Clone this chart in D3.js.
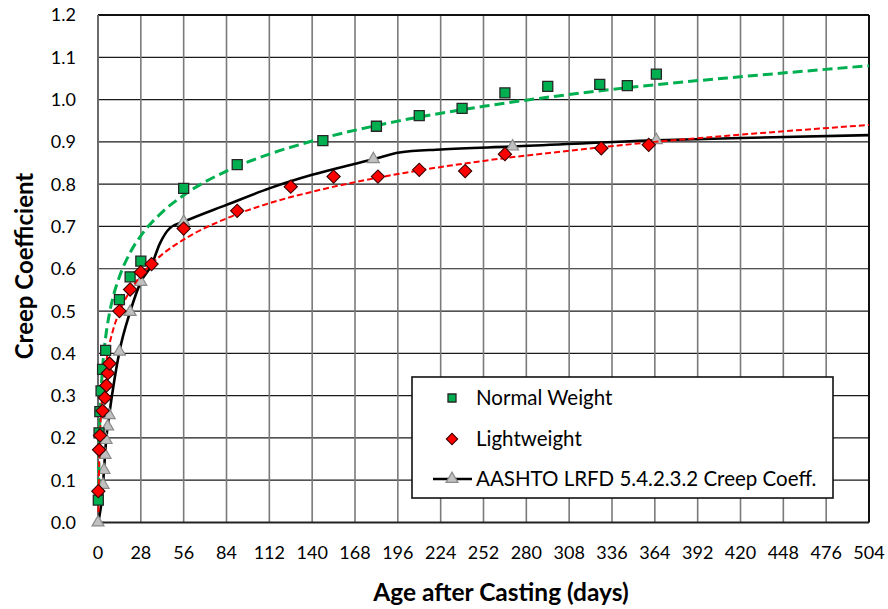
<!DOCTYPE html>
<html><head><meta charset="utf-8">
<script src="https://cdn.jsdelivr.net/npm/d3@7"></script>
<style>
html,body{margin:0;padding:0;background:#fff;}
svg{display:block;}
text{font-family:Lato,"Open Sans",sans-serif;fill:#000;}
</style></head><body>
<svg id="chart" width="888" height="609"></svg>
<script>
// ---- data ----
const xTicks = [0,28,56,84,112,140,168,196,224,252,280,308,336,364,392,420,448,476,504];
const yTicks = [0,0.1,0.2,0.3,0.4,0.5,0.6,0.7,0.8,0.9,1.0,1.1,1.2];

const nwDays   = [0.2,0.7,1.2,2,3,5,14,21,28,56,91,147,182,210,238,266,294,328,346,365];
const nwValues = [0.053,0.212,0.262,0.311,0.362,0.407,0.527,0.581,0.618,0.790,0.846,0.903,0.937,0.962,0.979,1.016,1.031,1.036,1.033,1.060];

const lwDays   = [0.2,0.7,1.3,3,4.5,5.5,6.5,7.5,14,21,28,35,56,91,126,154,183,210,240,266,329,360];
const lwValues = [0.074,0.172,0.206,0.264,0.295,0.324,0.353,0.376,0.500,0.551,0.592,0.611,0.695,0.737,0.794,0.818,0.818,0.834,0.831,0.871,0.885,0.893];

const aashtoMarkerDays   = [0,3.3,3.9,4.6,5.3,6.3,7.3,14,21,28,56,180,271,365];
const aashtoMarkerValues = [0,0.089,0.124,0.160,0.195,0.227,0.254,0.404,0.498,0.569,0.711,0.859,0.889,0.904];

const aashtoCurveDays   = [0,3.3,3.9,4.6,5.3,6.3,7.3,14,21,28,35,40.5,47,56,84,112,140,169,180,197,224,271,365,420,504];
const aashtoCurveValues = [0,0.089,0.124,0.160,0.195,0.227,0.254,0.404,0.498,0.569,0.609,0.660,0.696,0.711,0.751,0.790,0.822,0.849,0.859,0.875,0.882,0.889,0.904,0.909,0.916];

const nwTrendDays   = [0.3,0.5,1,2,3,5,7,10,14,21,28,42,56,84,112,140,196,252,308,364,420,504];
const nwTrendValues = [0.046,0.118,0.214,0.310,0.367,0.438,0.485,0.535,0.581,0.638,0.678,0.734,0.774,0.831,0.871,0.902,0.949,0.984,1.012,1.035,1.054,1.080];

const lwTrendDays   = [0.3,0.5,1,2,3,5,7,10,14,21,28,42,56,84,112,140,196,252,308,364,420,504];
const lwTrendValues = [0.024,0.087,0.173,0.258,0.308,0.371,0.413,0.457,0.498,0.548,0.584,0.634,0.669,0.719,0.755,0.782,0.824,0.855,0.879,0.900,0.917,0.940];

const legendLabels = ["Normal Weight","Lightweight","AASHTO LRFD 5.4.2.3.2 Creep Coeff."];
const xTitle = "Age after Casting (days)";
const yTitle = "Creep Coefficient";

// ---- drawing ----
const svg = d3.select("#chart");
const L = 98, R = 869, T = 15, B = 522.5;
const x = d3.scaleLinear().domain([0,504]).range([L,R]);
const y = d3.scaleLinear().domain([0,1.2]).range([B,T]);
const zip = (a,b) => a.map((d,i)=>[d,b[i]]);

// gridlines
svg.append("g").selectAll("line").data(yTicks.slice(1,-1)).join("line")
  .attr("x1",L).attr("x2",R).attr("y1",d=>y(d)).attr("y2",d=>y(d))
  .attr("stroke","#1a1a1a").attr("stroke-width",1.2);
svg.append("g").selectAll("line").data(xTicks.slice(1,-1)).join("line")
  .attr("y1",T).attr("y2",B).attr("x1",d=>x(d)).attr("x2",d=>x(d))
  .attr("stroke","#7a7a7a").attr("stroke-width",1.6);

// plot border
svg.append("line").attr("x1",L).attr("x2",R).attr("y1",T).attr("y2",T).attr("stroke","#111").attr("stroke-width",2);
svg.append("line").attr("x1",R).attr("x2",R).attr("y1",T).attr("y2",B).attr("stroke","#111").attr("stroke-width",2);
svg.append("line").attr("x1",L).attr("x2",R).attr("y1",B).attr("y2",B).attr("stroke","#222").attr("stroke-width",2);
svg.append("line").attr("x1",L).attr("x2",L).attr("y1",T).attr("y2",B).attr("stroke","#6a6a6a").attr("stroke-width",2);

// tick labels
svg.append("g").selectAll("text").data(yTicks).join("text")
  .attr("x",76).attr("y",d=>y(d)).attr("dy","0.36em")
  .attr("text-anchor","end").style("font-size","18px")
  .text(d=>d3.format(".1f")(d));
svg.append("g").selectAll("text").data(xTicks).join("text")
  .attr("x",d=>x(d)).attr("y",559)
  .attr("text-anchor","middle").style("font-size","18px")
  .text(d=>d);

// axis titles
svg.append("text").attr("x",501).attr("y",601).attr("text-anchor","middle")
  .style("font-size","24.5px").style("font-weight","bold").text(xTitle);
svg.append("text").attr("transform","translate(33,266) rotate(-90)").attr("text-anchor","middle")
  .style("font-size","24px").style("font-weight","bold").text(yTitle);

const lineGen = d3.line().x(d=>x(d[0])).y(d=>y(d[1])).curve(d3.curveMonotoneX);

// AASHTO curve
svg.append("path").datum(zip(aashtoCurveDays,aashtoCurveValues))
  .attr("d",lineGen).attr("fill","none").attr("stroke","#000").attr("stroke-width",2.6);
// AASHTO markers
const tri = d3.symbol().type(d3.symbolTriangle).size(62);
svg.append("g").selectAll("path").data(zip(aashtoMarkerDays,aashtoMarkerValues)).join("path")
  .attr("d",tri).attr("transform",d=>`translate(${x(d[0])},${y(d[1])})`)
  .attr("fill","#c0c0c0").attr("stroke","#8a8a8a").attr("stroke-width",1.2);

// trendlines
svg.append("path").datum(zip(nwTrendDays,nwTrendValues))
  .attr("d",lineGen).attr("fill","none").attr("stroke","#00b050").attr("stroke-width",3).attr("stroke-dasharray","10,5");
svg.append("path").datum(zip(lwTrendDays,lwTrendValues))
  .attr("d",lineGen).attr("fill","none").attr("stroke","#ff0000").attr("stroke-width",2).attr("stroke-dasharray","6,3");

// NW squares
const sq = d3.symbol().type(d3.symbolSquare).size(100);
svg.append("g").selectAll("path").data(zip(nwDays,nwValues)).join("path")
  .attr("d",sq).attr("transform",d=>`translate(${x(d[0])},${y(d[1])})`)
  .attr("fill","#00b050").attr("stroke","#262626").attr("stroke-width",1.3);
// LW diamonds
const dm = d3.symbol().type(d3.symbolSquare).size(88);
svg.append("g").selectAll("path").data(zip(lwDays,lwValues)).join("path")
  .attr("d",dm).attr("transform",d=>`translate(${x(d[0])},${y(d[1])}) rotate(45)`)
  .attr("fill","#ff0000").attr("stroke","#3a0000").attr("stroke-width",1.1);

// legend
const lg = svg.append("g");
lg.append("rect").attr("x",412).attr("y",377).attr("width",421).attr("height",121)
  .attr("fill","#fff").attr("stroke","#111").attr("stroke-width",1.6);
const rowY = [398,439,479];
lg.append("path").attr("d",d3.symbol().type(d3.symbolSquare).size(64)).attr("transform",`translate(452,${rowY[0]})`)
  .attr("fill","#00b050").attr("stroke","#262626").attr("stroke-width",1.3);
lg.append("path").attr("d",d3.symbol().type(d3.symbolSquare).size(64)).attr("transform",`translate(452,${rowY[1]}) rotate(45)`)
  .attr("fill","#ff0000").attr("stroke","#3a0000").attr("stroke-width",1.1);
lg.append("line").attr("x1",433).attr("x2",472).attr("y1",rowY[2]).attr("y2",rowY[2]).attr("stroke","#000").attr("stroke-width",2.6);
lg.append("path").attr("d",tri).attr("transform",`translate(452,${rowY[2]})`)
  .attr("fill","#c0c0c0").attr("stroke","#8a8a8a").attr("stroke-width",1.2);
lg.selectAll("text.lab").data(legendLabels).join("text").attr("class","lab")
  .attr("x",476).attr("y",(d,i)=>rowY[i]).attr("dy","0.36em")
  .style("font-size","20.5px").text(d=>d);
</script>
</body></html>
